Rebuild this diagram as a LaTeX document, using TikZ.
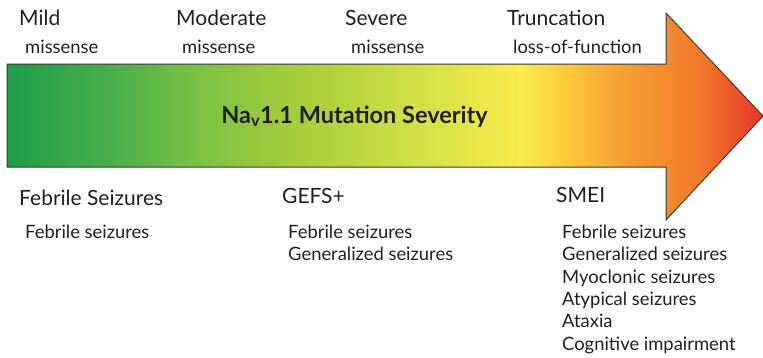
\documentclass[tikz,border=0pt]{standalone}
\usepackage{fontspec}
\setmainfont{Lato}
\begin{document}
\begin{tikzpicture}[x=1pt,y=-1pt,
  head/.style={anchor=base west,inner sep=0pt,font=\fontsize{21}{24}\selectfont,text=ink},
  sub/.style={anchor=base west,inner sep=0pt,font=\fontsize{18.4}{22.4}\selectfont,text=ink},
  outline/.style={draw=edge,line width=1pt,line join=miter}]
\definecolor{ink}{HTML}{231F20}
\definecolor{edge}{HTML}{3A3A3A}
\definecolor{c0}{HTML}{1E9E4A}
\definecolor{c1}{HTML}{4DB04A}
\definecolor{c2}{HTML}{7CC242}
\definecolor{c3}{HTML}{A6CE3A}
\definecolor{c4}{HTML}{CDDD44}
\definecolor{c5}{HTML}{F8EC4A}
\definecolor{c6}{HTML}{FCCB3A}
\definecolor{c7}{HTML}{F6A034}
\definecolor{c8}{HTML}{F07A2A}
\definecolor{c9}{HTML}{E8342A}
\useasboundingbox (0,0) rectangle (763,357);
% arrow outline
\coordinate (bl) at (7,167);
\coordinate (tl) at (7,64);
\coordinate (nt) at (666,64);
\coordinate (ht) at (666,13);
\coordinate (tip) at (763,116);
\coordinate (hb) at (666,220);
\coordinate (nb) at (666,167);
% gradient fill, clipped to the arrow
\begin{scope}
  \clip (bl) -- (tl) -- (nt) -- (ht) -- (tip) -- (hb) -- (nb) -- cycle;
  \foreach \xa/\xb/\ca/\cb in {6/120/c0/c1,120/200/c1/c2,200/300/c2/c3,300/400/c3/c4,400/520/c4/c5,520/565/c5/c6,565/620/c6/c7,620/700/c7/c8,700/764/c8/c9}
    \shade[left color=\ca,right color=\cb] (\xa-0.3,10) rectangle (\xb+0.3,224);
\end{scope}
\draw[outline] (bl) -- (tl) -- (nt) -- (ht) -- (tip) -- (hb) -- (nb) -- cycle;
\node[anchor=base,inner sep=0pt,font=\bfseries\fontsize{23.5}{26}\selectfont,text=ink] (title) at (354.5,123) {Na\textsubscript{v}1.1 Mutation Severity};
% mutation classes
\node[head] (mild) at (19,25) {Mild};
\node[sub] (mildt) at (25,53) {missense};
\node[head] (mod) at (176,25) {Moderate};
\node[sub] (modt) at (182,53) {missense};
\node[head] (sev) at (345,25) {Severe};
\node[sub] (sevt) at (351,53) {missense};
\node[head] (trunc) at (507,25) {Truncation};
\node[sub] (trunct) at (513,53) {loss-of-function};
% phenotypes
\node[head] (fs) at (19,205) {Febrile Seizures};
\node[sub] (fsl) at (25,238) {Febrile seizures};
\node[head] (gefs) at (282,203) {GEFS+};
\node[sub] (gefs1) at (288,238) {Febrile seizures};
\node[sub] (gefs2) at (288,260.5) {Generalized seizures};
\node[head] (smei) at (556,202) {SMEI};
\node[sub] (s1) at (562,238) {Febrile seizures};
\node[sub] (s2) at (562,260.5) {Generalized seizures};
\node[sub] (s3) at (562,283) {Myoclonic seizures};
\node[sub] (s4) at (562,305) {Atypical seizures};
\node[sub] (s5) at (562,327) {Ataxia};
\node[sub] (s6) at (562,350) {Cognitive impairment};
\end{tikzpicture}
\end{document}
